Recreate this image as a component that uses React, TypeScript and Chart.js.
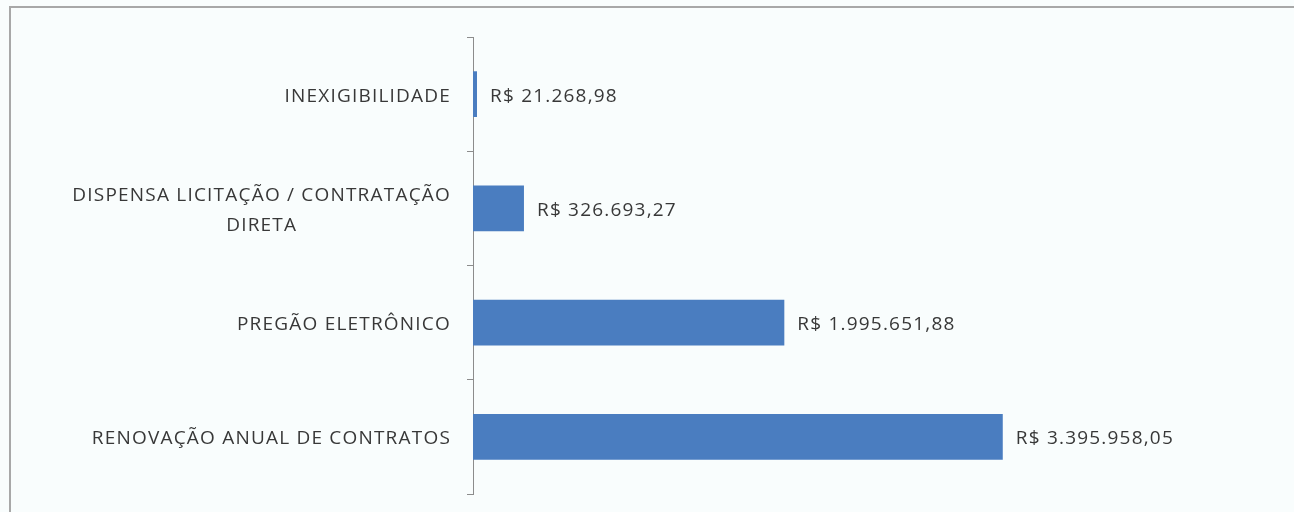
import React, { useEffect, useRef } from "react";
import { Chart, registerables } from "chart.js";

Chart.register(...registerables);

const categories: string[][] = [
  ["INEXIGIBILIDADE"],
  ["DISPENSA LICITAÇÃO / CONTRATAÇÃO", "DIRETA"],
  ["PREGÃO ELETRÔNICO"],
  ["RENOVAÇÃO ANUAL DE CONTRATOS"],
];
const values: number[] = [21268.98, 326693.27, 1995651.88, 3395958.05];
const axisMin = 0;
const axisMax = 4000000;

const FONT = '19px "Open Sans"';
const TEXT_COLOR = "#383838";
const AXIS_COLOR = "#8c8c8c";
const BAR_COLOR = "#4a7dc0";

function formatBRL(v: number): string {
  const [i, d] = v.toFixed(2).split(".");
  const int = i.replace(/\B(?=(\d{3})+(?!\d))/g, ".");
  return `R$ ${int},${d}`;
}

const labelsPlugin = {
  id: "customLabels",
  afterDraw(chart: any) {
    const ctx = chart.ctx as CanvasRenderingContext2D;
    const yScale = chart.scales.y;
    ctx.save();
    ctx.font = FONT;
    ctx.fillStyle = TEXT_COLOR;
    (ctx as any).letterSpacing = "1.2px";
    ctx.textBaseline = "middle";
    const right = yScale.right - 22;
    const lineH = 30;
    const dy = 2;
    categories.forEach((lines, i) => {
      const y = yScale.getPixelForTick(i) + dy;
      const widths = lines.map((l) => ctx.measureText(l).width);
      const block = Math.max(...widths);
      const cx = right - block / 2;
      ctx.textAlign = "center";
      lines.forEach((l, j) => {
        ctx.fillText(l, cx, y + (j - (lines.length - 1) / 2) * lineH);
      });
    });
    const meta = chart.getDatasetMeta(0);
    ctx.textAlign = "left";
    meta.data.forEach((bar: any, i: number) => {
      ctx.fillText(formatBRL(values[i]), bar.x + 13, bar.y + dy);
    });
    ctx.restore();
  },
};

export default function App() {
  const canvasRef = useRef<HTMLCanvasElement | null>(null);

  useEffect(() => {
    document.body.style.margin = "0";
    const canvas = canvasRef.current;
    if (!canvas) return;
    const chart = new Chart(canvas, {
      type: "bar",
      data: {
        labels: categories.map((c) => c.join(" ")),
        datasets: [
          {
            data: values,
            backgroundColor: BAR_COLOR,
            borderWidth: 0,
            barPercentage: 0.5,
            categoryPercentage: 0.8,
            minBarLength: 4,
          },
        ],
      },
      options: {
        indexAxis: "y",
        responsive: false,
        animation: false,
        devicePixelRatio: 1,
        layout: { padding: { top: 37, bottom: 18, left: 0, right: 197 } },
        plugins: {
          legend: { display: false },
          tooltip: { enabled: false },
          title: { display: false },
        },
        scales: {
          x: { display: false, min: axisMin, max: axisMax },
          y: {
            display: true,
            ticks: { display: false },
            grid: {
              display: true,
              drawOnChartArea: false,
              drawTicks: true,
              tickLength: 6,
              color: AXIS_COLOR,
              lineWidth: 1,
            },
            border: { display: true, color: AXIS_COLOR, width: 1 },
            afterFit: (scale: any) => {
              scale.width = 473;
            },
          },
        },
      },
      plugins: [labelsPlugin],
    });
    return () => chart.destroy();
  }, []);

  return (
    <div
      style={{
        position: "fixed",
        left: 0,
        top: 0,
        width: 1294,
        height: 512,
        overflow: "hidden",
        background: "#f9fdfd",
      }}
    >
      <div
        style={{
          position: "absolute",
          left: 9,
          top: 6,
          width: 1400,
          height: 600,
          border: "2px solid #a8a8a8",
        }}
      />
      <canvas
        ref={canvasRef}
        width={1294}
        height={512}
        style={{ position: "absolute", left: 0, top: 0, width: 1294, height: 512 }}
      />
    </div>
  );
}
